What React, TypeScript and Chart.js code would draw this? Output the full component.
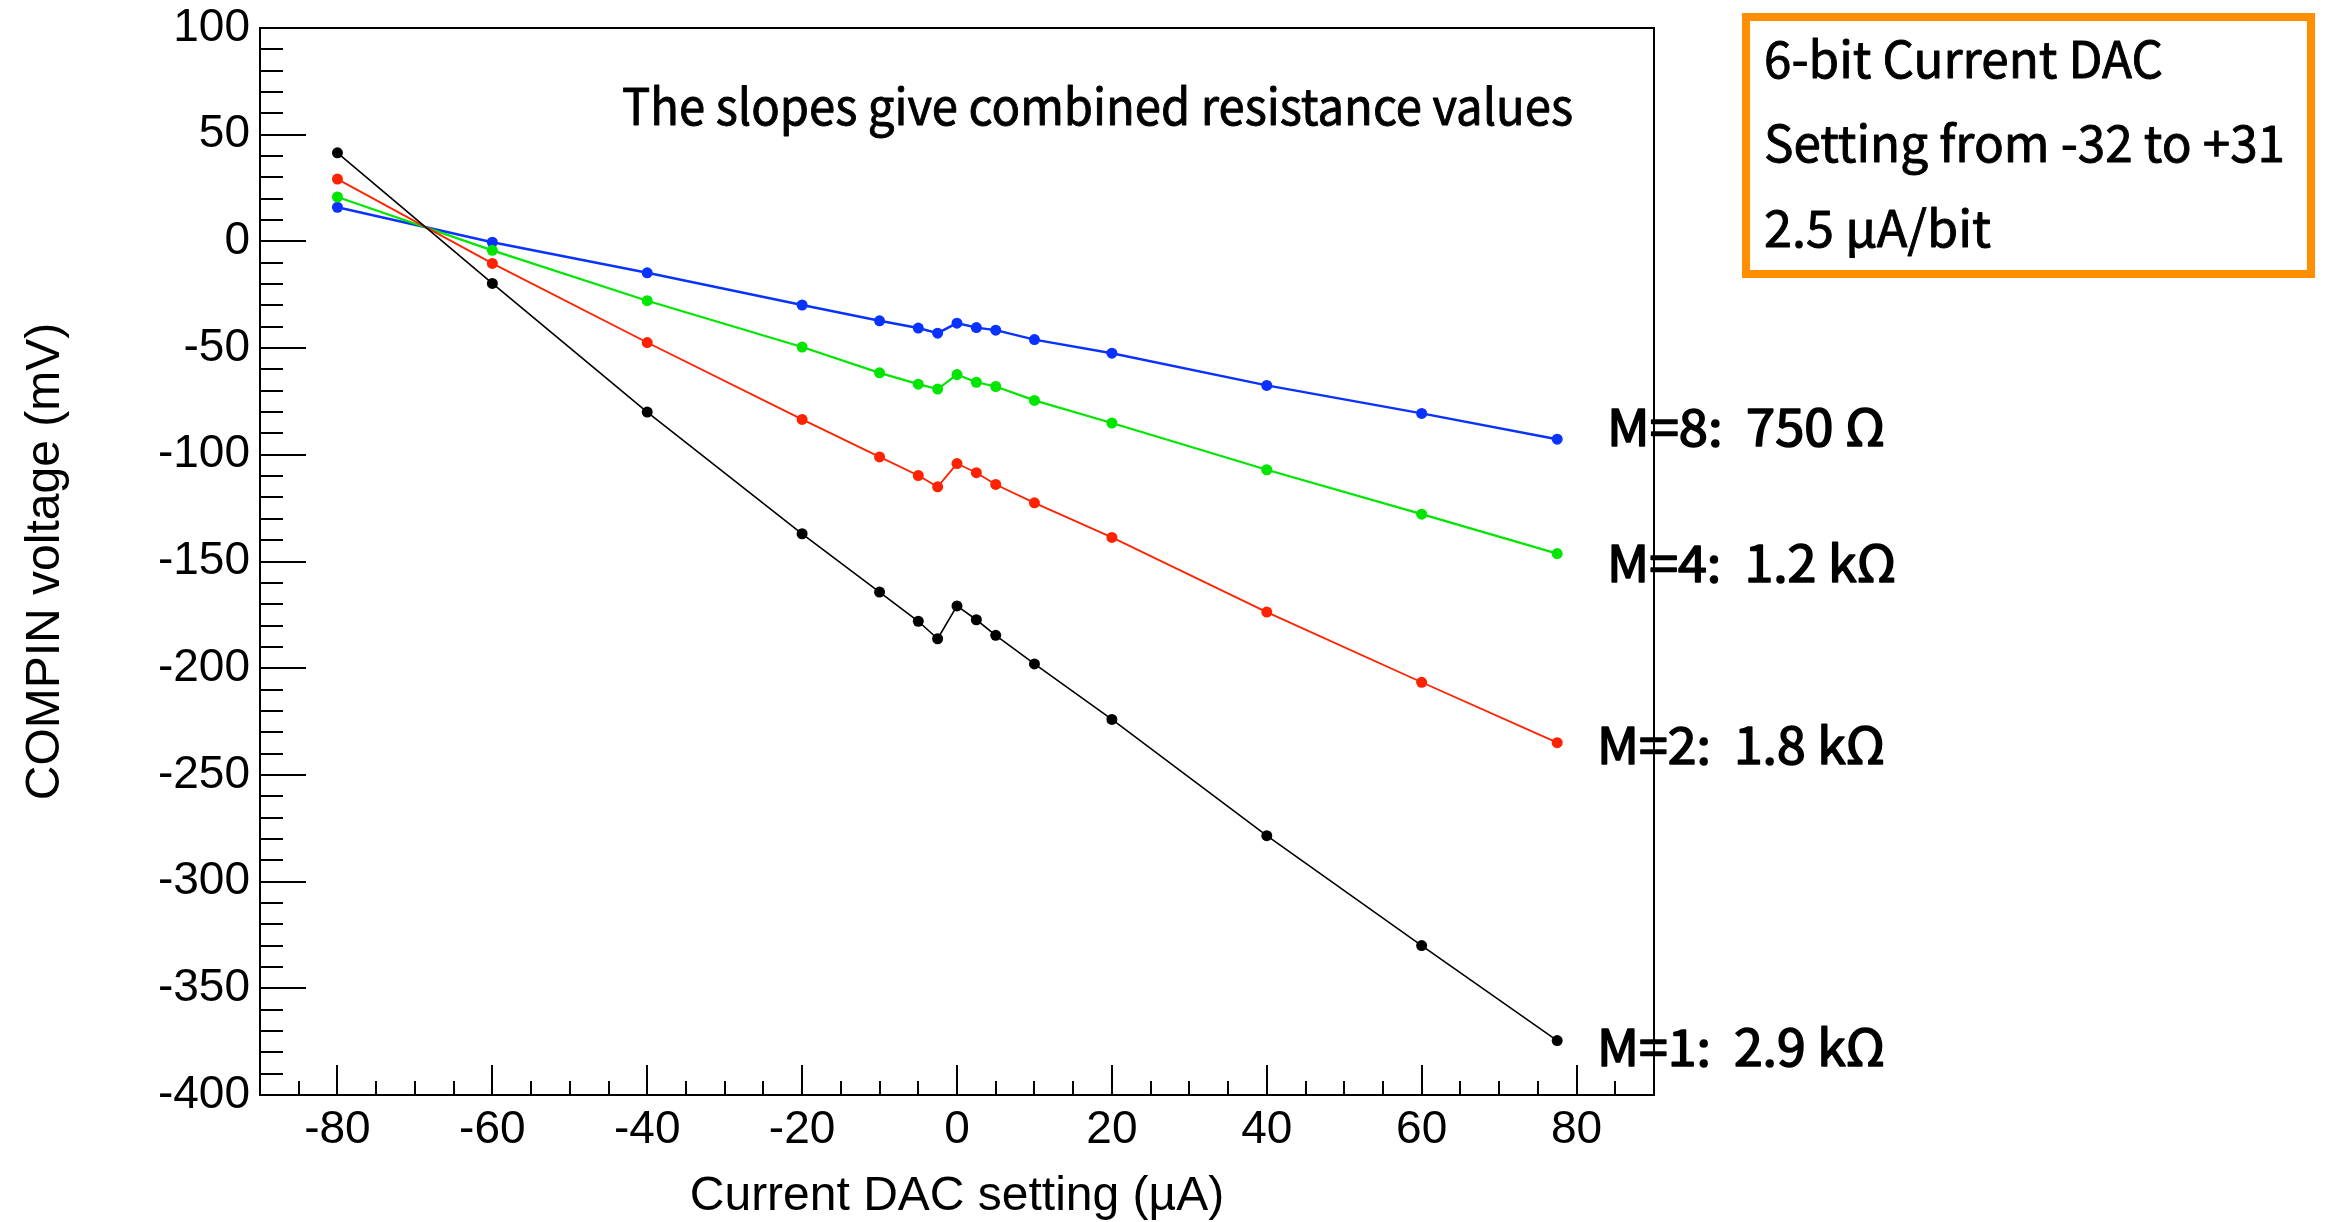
import React, { useEffect, useRef } from "react";
import { Chart, registerables } from "chart.js";

Chart.register(...registerables);

// ---- data ----
const dacCurrents = [-80, -60, -40, -20, -10, -5, -2.5, 0, 2.5, 5, 10, 20, 40, 60, 77.5];
const m1Voltages = [41.5, -19.7, -80, -137, -164.3, -178, -186.2, -170.8, -177.3, -184.6, -198, -224, -278.5, -330, -374.5];
const m2Voltages = [29.2, -10.3, -47.4, -83.4, -101, -109.7, -115, -104.1, -108.4, -113.9, -122.5, -138.7, -173.7, -206.6, -234.9];
const m4Voltages = [20.8, -4.2, -27.8, -49.5, -61.6, -66.9, -69.2, -62.4, -66, -68, -74.5, -85.1, -107, -127.8, -146.3];
const m8Voltages = [16, -0.4, -14.7, -29.8, -37.2, -40.6, -43, -38.3, -40.4, -41.6, -46, -52.4, -67.5, -80.6, -92.7];

const xTickValues = [-80, -60, -40, -20, 0, 20, 40, 60, 80];
const yTickValues = [100, 50, 0, -50, -100, -150, -200, -250, -300, -350, -400];

const seriesLabels = ["M=1", "M=2", "M=4", "M=8"];
const resistanceLabels = ["M=1:  2.9 kΩ", "M=2:  1.8 kΩ", "M=4:  1.2 kΩ", "M=8:  750 Ω"];
const titleText = "The slopes give combined resistance values";
const boxLines = ["6-bit Current DAC", "Setting from -32 to +31", "2.5 µA/bit"];
const xTitle = "Current DAC setting (µA)";
const yTitle = "COMPIN voltage (mV)";

// ---- styles / layout ----
const W = 2331;
const H = 1222;
const colors = ["#000000", "#ff2200", "#00e600", "#0a32ff"];
const lineWidths = [1.6, 1.8, 2.2, 2.4];
const axisFont = '"Liberation Sans", Arial, Helvetica, sans-serif';
const noteFont = '"Noto Sans CJK KR", "Noto Sans", sans-serif';

const resistanceLayout = [
  { x: 1597, base: 1066, w: 288 },
  { x: 1597, base: 764, w: 288 },
  { x: 1607, base: 582, w: 289 },
  { x: 1607, base: 446, w: 278 },
];
const titleLayout = { x: 622, base: 125, w: 951 };
const boxLayout = [
  { x: 1764, base: 78, w: 399 },
  { x: 1764, base: 162, w: 521 },
  { x: 1764, base: 247, w: 227 },
];

function fitText(
  ctx: CanvasRenderingContext2D,
  text: string,
  x: number,
  base: number,
  width: number,
  font: string,
  color: string,
  stroke: number
) {
  ctx.save();
  ctx.font = font;
  ctx.fillStyle = color;
  ctx.strokeStyle = color;
  ctx.textAlign = "left";
  ctx.textBaseline = "alphabetic";
  const m = ctx.measureText(text).width;
  const s = m > 0 ? width / m : 1;
  ctx.translate(x, base);
  ctx.scale(s, 1);
  ctx.fillText(text, 0, 0);
  if (stroke > 0) {
    ctx.lineWidth = stroke;
    ctx.lineJoin = "round";
    ctx.strokeText(text, 0, 0);
  }
  ctx.restore();
}

const rootFramePlugin = {
  id: "rootFrame",
  beforeDatasetsDraw(chart: any) {
    const ctx: CanvasRenderingContext2D = chart.ctx;
    const { left, right, top, bottom } = chart.chartArea;
    const xs = chart.scales.x;
    const ys = chart.scales.y;
    ctx.save();
    ctx.strokeStyle = "#000";
    ctx.lineWidth = 2;
    for (let v = -85; v <= 85; v += 5) {
      const px = Math.round(xs.getPixelForValue(v));
      const major = v % 20 === 0;
      ctx.beginPath();
      ctx.moveTo(px, bottom);
      ctx.lineTo(px, bottom - (major ? 30 : 14));
      ctx.stroke();
    }
    for (let v = -390; v <= 90; v += 10) {
      const py = Math.round(ys.getPixelForValue(v));
      const major = v % 50 === 0;
      ctx.beginPath();
      ctx.moveTo(left, py);
      ctx.lineTo(left + (major ? 46 : 23), py);
      ctx.stroke();
    }
    ctx.strokeRect(left, top, right - left, bottom - top);
    ctx.restore();
  },
  afterDraw(chart: any) {
    const ctx: CanvasRenderingContext2D = chart.ctx;
    fitText(ctx, titleText, titleLayout.x, titleLayout.base, titleLayout.w, `50px ${noteFont}`, "#000", 0.9);
    ctx.save();
    ctx.strokeStyle = "#ff8f00";
    ctx.lineWidth = 8;
    ctx.strokeRect(1746, 17, 565, 257);
    ctx.restore();
    boxLines.forEach((t, i) => {
      const l = boxLayout[i];
      fitText(ctx, t, l.x, l.base, l.w, `50px ${noteFont}`, "#000", 0.9);
    });
    resistanceLabels.forEach((t, i) => {
      const l = resistanceLayout[i];
      fitText(ctx, t, l.x, l.base, l.w, `50px ${noteFont}`, "#000", 1.6);
    });
  },
};

export default function App() {
  const canvasRef = useRef<HTMLCanvasElement | null>(null);

  useEffect(() => {
    const canvas = canvasRef.current;
    if (!canvas) return;
    const seriesValues = [m1Voltages, m2Voltages, m4Voltages, m8Voltages];
    const chart = new Chart(canvas, {
      type: "scatter",
      data: {
        datasets: seriesValues.map((vals, i) => ({
          label: seriesLabels[i],
          data: dacCurrents.map((x, j) => ({ x, y: vals[j] })),
          showLine: true,
          borderColor: colors[i],
          backgroundColor: colors[i],
          borderWidth: lineWidths[i],
          pointRadius: 5.5,
          pointBorderWidth: 0,
          pointBackgroundColor: colors[i],
          tension: 0,
        })),
      },
      options: {
        animation: false,
        responsive: false,
        maintainAspectRatio: false,
        devicePixelRatio: 1,
        layout: { padding: { left: 0, right: W - 1654, top: 28, bottom: 0 } },
        plugins: {
          legend: { display: false },
          tooltip: { enabled: false },
        },
        scales: {
          x: {
            type: "linear",
            min: -90,
            max: 90,
            afterBuildTicks: (s: any) => {
              s.ticks = xTickValues.map((v) => ({ value: v }));
            },
            afterFit: (s: any) => {
              s.height = H - 1095;
              s.paddingLeft = 0;
              s.paddingRight = 0;
            },
            grid: { display: false, drawTicks: false },
            border: { display: false },
            ticks: {
              color: "#000",
              font: { family: axisFont, size: 46 },
              padding: 8,
              maxRotation: 0,
              autoSkip: false,
              callback: (v: any) => String(v),
            },
            title: {
              display: true,
              text: xTitle,
              color: "#000",
              font: { family: axisFont, size: 48 },
              padding: { top: 0, bottom: -4 },
            },
          },
          y: {
            type: "linear",
            min: -400,
            max: 100,
            afterBuildTicks: (s: any) => {
              s.ticks = yTickValues.map((v) => ({ value: v }));
            },
            afterFit: (s: any) => {
              s.width = 260;
              s.paddingTop = 0;
              s.paddingBottom = 0;
            },
            grid: { display: false, drawTicks: false },
            border: { display: false },
            ticks: {
              color: "#000",
              font: { family: axisFont, size: 46 },
              padding: 10,
              autoSkip: false,
              callback: (v: any) => String(v),
            },
            title: {
              display: true,
              text: yTitle,
              color: "#000",
              font: { family: axisFont, size: 48 },
              padding: { top: 17, bottom: 0 },
            },
          },
        },
      },
      plugins: [rootFramePlugin],
    } as any);
    return () => chart.destroy();
  }, []);

  return (
    <div style={{ position: "fixed", left: 0, top: 0, width: W, height: H, background: "#fff" }}>
      <canvas ref={canvasRef} width={W} height={H} style={{ display: "block", width: W, height: H }} />
    </div>
  );
}
